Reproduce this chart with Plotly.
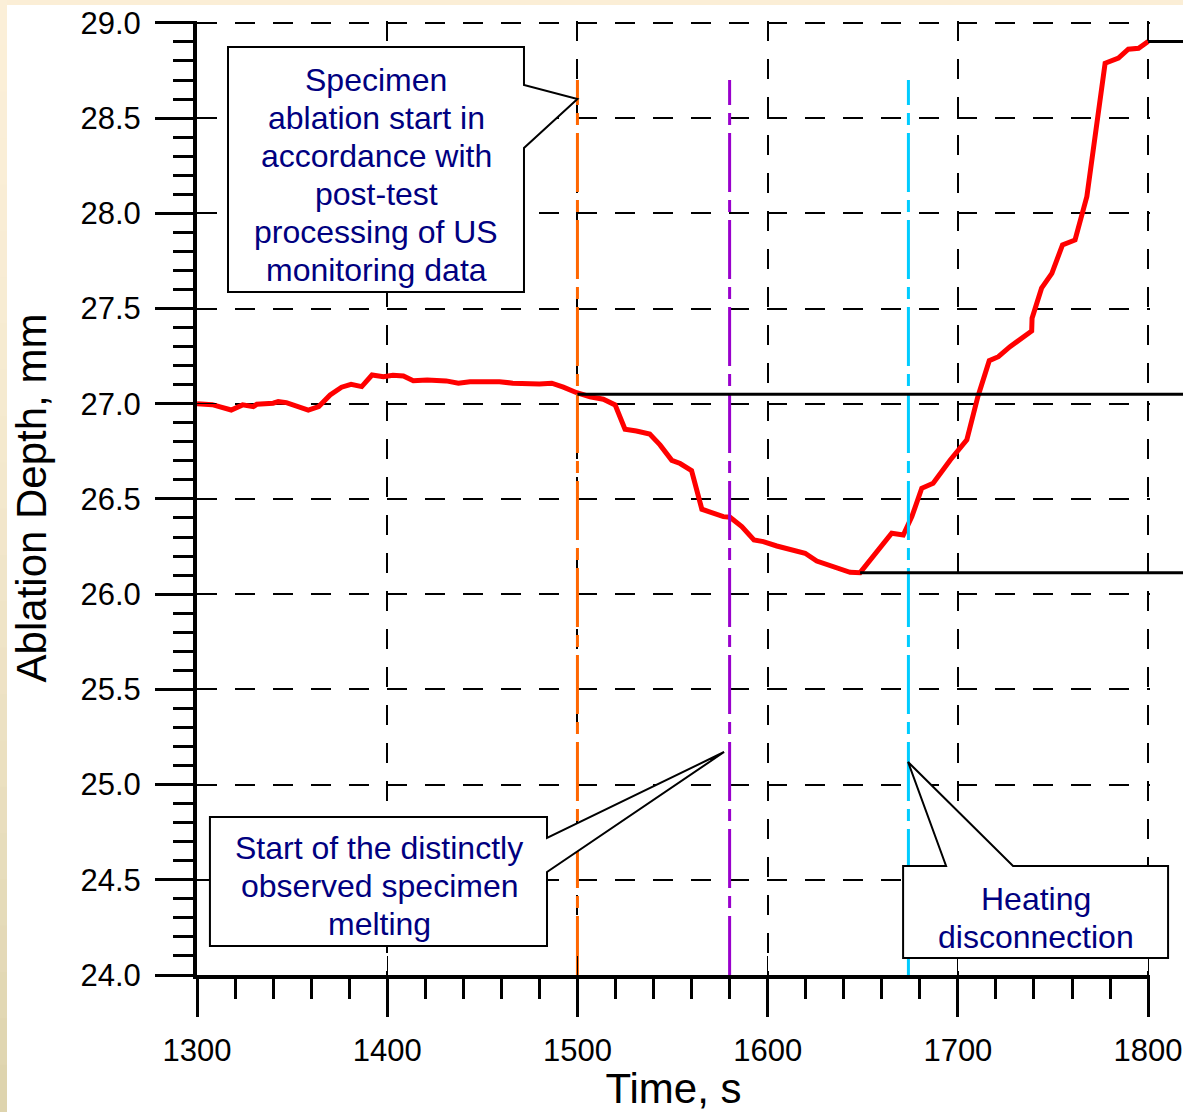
import plotly.graph_objects as go

# Ablation depth record (time in s, depth in mm)
time_s = [1300, 1308, 1318, 1324, 1329.6, 1331.4, 1340, 1342.7, 1347, 1358.5,
          1364, 1370, 1376, 1381, 1386.6, 1392, 1398, 1403, 1408.5, 1413.7,
          1421, 1431, 1437.4, 1443.5, 1459, 1466, 1480, 1486.5, 1492.6, 1499.6,
          1506.6, 1513.6, 1519.8, 1525, 1531, 1538, 1543.4, 1549.6, 1554, 1560,
          1565.4, 1571.5, 1576.7, 1580.2, 1586.4, 1592.8, 1597.7, 1604.8, 1613.5, 1619.7,
          1625.8, 1636.3, 1643.3, 1648.6, 1653.9, 1665.2, 1671.3, 1675.8, 1681, 1687,
          1696, 1704.7, 1710.5, 1716.5, 1721.3, 1727.4, 1738.8, 1739, 1744, 1749.4,
          1755, 1761.6, 1767.8, 1777.4, 1784.4, 1789.6, 1795, 1800]
depth_mm = [27.00, 26.995, 26.967, 26.994, 26.985, 26.997, 27.003, 27.011, 27.006, 26.967,
            26.985, 27.046, 27.087, 27.102, 27.090, 27.151, 27.142, 27.150, 27.146, 27.121,
            27.125, 27.120, 27.108, 27.116, 27.116, 27.108, 27.104, 27.108, 27.087, 27.058,
            27.037, 27.024, 26.994, 26.866, 26.857, 26.841, 26.784, 26.703, 26.686, 26.649,
            26.446, 26.425, 26.407, 26.404, 26.355, 26.285, 26.276, 26.253, 26.232, 26.215,
            26.174, 26.141, 26.115, 26.113, 26.180, 26.320, 26.311, 26.407, 26.556, 26.582,
            26.705, 26.810, 27.037, 27.226, 27.247, 27.300, 27.382, 27.449, 27.607, 27.685,
            27.834, 27.860, 28.088, 28.788, 28.815, 28.862, 28.867, 28.902]

# Event markers: ablation start, distinct melting, heating off
event_times = [1500, 1580, 1674]
event_colors = ["#FF6600", "#9900CC", "#00CCFF"]
event_top = 28.7

# Reference depth levels (start of ablation, minimum, final)
start_level = 27.05
min_index = depth_mm.index(min(depth_mm))
level_lines = [
    (event_times[0], start_level),
    (time_s[min_index], depth_mm[min_index]),
    (time_s[-1], depth_mm[-1]),
]

x_ticks = [1300, 1400, 1500, 1600, 1700, 1800]
y_ticks = [24.0, 24.5, 25.0, 25.5, 26.0, 26.5, 27.0, 27.5, 28.0, 28.5, 29.0]

# Callout texts, one entry per line
callout_lines = [
    ["Specimen", "ablation start in", "accordance with", "post-test",
     "processing of US", "monitoring data"],
    ["Start of the distinctly", "observed specimen", "melting"],
    ["Heating", "disconnection"],
]

X_RANGE = [1300, 1801]
Y_RANGE = [24.0, 29.01]

W, H = 1183, 1112
M_L, M_R, M_T, M_B = 197, 33, 21, 137
PLOT_W = W - M_L - M_R
PLOT_H = H - M_T - M_B

FONT = "Arial, Liberation Sans, sans-serif"
NAVY = "#000080"


def fx(t):
    return (t - X_RANGE[0]) / (X_RANGE[1] - X_RANGE[0])


def fy(v):
    return (v - Y_RANGE[0]) / (Y_RANGE[1] - Y_RANGE[0])


def path(points):
    return "M " + " L ".join(f"{fx(t):.5f},{fy(v):.5f}" for t, v in points) + " Z"


fig = go.Figure()

fig.add_trace(go.Scatter(x=time_s, y=depth_mm, mode="lines",
                         line=dict(color="#FF0000", width=5),
                         showlegend=False, hoverinfo="x+y"))

for t, c in zip(event_times, event_colors):
    fig.add_trace(go.Scatter(x=[t, t], y=[Y_RANGE[0], event_top], mode="lines",
                             line=dict(color=c, width=3, dash="59px,8px,12px,8px"),
                             showlegend=False, hoverinfo="skip"))

# carriers for the secondary (inside) tick axes
fig.add_trace(go.Scatter(x=[], y=[], xaxis="x2", yaxis="y", showlegend=False, hoverinfo="skip"))
fig.add_trace(go.Scatter(x=[], y=[], xaxis="x", yaxis="y2", showlegend=False, hoverinfo="skip"))

shapes = []

# cream frame strips at the top and left edges
top_y0 = 1 + (M_T - 5) / PLOT_H
top_y1 = 1 + M_T / PLOT_H + 0.01
shapes.append(dict(type="rect", xref="paper", yref="paper",
                   x0=-M_L / PLOT_W - 0.01, x1=1 + M_R / PLOT_W + 0.01,
                   y0=top_y0, y1=top_y1, fillcolor="#FBEED6", line=dict(width=0),
                   layer="below"))
n_strip = 24
c_top = (251, 239, 216)
c_bot = (221, 211, 173)
for i in range(n_strip):
    a = (i + 0.5) / n_strip
    k = a ** 1.6
    col = tuple(round(c_top[j] + (c_bot[j] - c_top[j]) * k) for j in range(3))
    ya = 1 + M_T / PLOT_H - (H / PLOT_H) * i / n_strip
    yb = 1 + M_T / PLOT_H - (H / PLOT_H) * (i + 1) / n_strip
    shapes.append(dict(type="rect", xref="paper", yref="paper",
                       x0=-M_L / PLOT_W - 0.01, x1=-(M_L - 7) / PLOT_W,
                       y0=yb - 0.001, y1=ya + 0.001,
                       fillcolor="rgb(%d,%d,%d)" % col, line=dict(width=0),
                       layer="below"))

# horizontal level lines running past the right end of the axis
for t0, lv in level_lines:
    shapes.append(dict(type="line", xref="paper", yref="y",
                       x0=fx(t0), x1=1.2, y0=lv, y1=lv,
                       line=dict(color="black", width=3)))

# callout boxes
box_line = dict(color="black", width=2)
callout1 = [(1316.3, 28.874), (1471.9, 28.874), (1471.9, 28.674), (1500, 28.6),
            (1471.9, 28.343), (1471.9, 27.587), (1316.3, 27.587)]
callout2 = [(1306.8, 24.830), (1484.0, 24.830), (1484.0, 24.720), (1577.1, 25.171),
            (1484.0, 24.541), (1484.0, 24.152), (1306.8, 24.152)]
callout3 = [(1671.2, 24.573), (1693.8, 24.573), (1673.8, 25.119), (1729.0, 24.573),
            (1810.5, 24.573), (1810.5, 24.089), (1671.2, 24.089)]
for pts in (callout1, callout2, callout3):
    shapes.append(dict(type="path", xref="paper", yref="paper", path=path(pts),
                       fillcolor="white", line=box_line))

# text anchors: (x centre, y of first line), line pitch in mm
callout_anchor = [(1394.3, 28.701), (1395.7, 24.665), (1741.1, 24.399)]
line_pitch = 0.1996

ann_font = dict(family=FONT, size=32, color=NAVY)
annotations = []
for lines, (cx, y_first) in zip(callout_lines, callout_anchor):
    for i, txt in enumerate(lines):
        annotations.append(dict(x=cx, y=y_first - i * line_pitch, xref="x", yref="y",
                                showarrow=False, font=ann_font, text=txt,
                                xanchor="center", yanchor="middle"))

tick_font = dict(family=FONT, size=31, color="black")
title_font = dict(family=FONT, size=42, color="black")
grid_dash = "20px,18px"

fig.update_layout(
    width=W, height=H,
    margin=dict(l=M_L, r=M_R, t=M_T, b=M_B, pad=0),
    paper_bgcolor="white", plot_bgcolor="white",
    showlegend=False,
    shapes=shapes,
    annotations=annotations,
    xaxis=dict(
        range=X_RANGE, domain=[0, 1], anchor="y",
        tickmode="array", tickvals=x_ticks, ticktext=[str(v) for v in x_ticks],
        ticks="outside", ticklen=38, tickwidth=3, tickcolor="black",
        minor=dict(dtick=20, tick0=1300, ticks="outside", ticklen=20, tickwidth=3,
                   tickcolor="black", showgrid=False),
        showline=True, linewidth=4, linecolor="black",
        showgrid=True, gridcolor="black", gridwidth=2, griddash=grid_dash,
        zeroline=False, tickfont=tick_font, ticklabelstandoff=7,
        title=dict(text="Time, s", font=title_font, standoff=7),
        automargin=False,
    ),
    yaxis=dict(
        range=Y_RANGE, domain=[0, 1], anchor="x",
        tickmode="array", tickvals=y_ticks, ticktext=["%.1f" % v for v in y_ticks],
        ticks="outside", ticklen=38, tickwidth=3, tickcolor="black",
        minor=dict(dtick=0.1, tick0=24, ticks="outside", ticklen=20, tickwidth=3,
                   tickcolor="black", showgrid=False),
        showline=True, linewidth=4, linecolor="black",
        showgrid=True, gridcolor="black", gridwidth=2, griddash=grid_dash,
        zeroline=False, tickfont=tick_font, ticklabelstandoff=8,
        title=dict(text="Ablation Depth, mm", font=title_font, standoff=22),
        automargin=False,
    ),
    xaxis2=dict(
        range=X_RANGE, overlaying="x", anchor="y", side="bottom",
        tickmode="array", tickvals=x_ticks[1:],
        ticks="inside", ticklen=19, tickwidth=1, tickcolor="black",
        showticklabels=False, showgrid=False, showline=False, zeroline=False,
    ),
    yaxis2=dict(
        range=Y_RANGE, overlaying="y", anchor="x", side="left",
        tickmode="array", tickvals=y_ticks[1:-1],
        ticks="inside", ticklen=19, tickwidth=1, tickcolor="black",
        showticklabels=False, showgrid=False, showline=False, zeroline=False,
    ),
)

fig.write_html("out.html")
